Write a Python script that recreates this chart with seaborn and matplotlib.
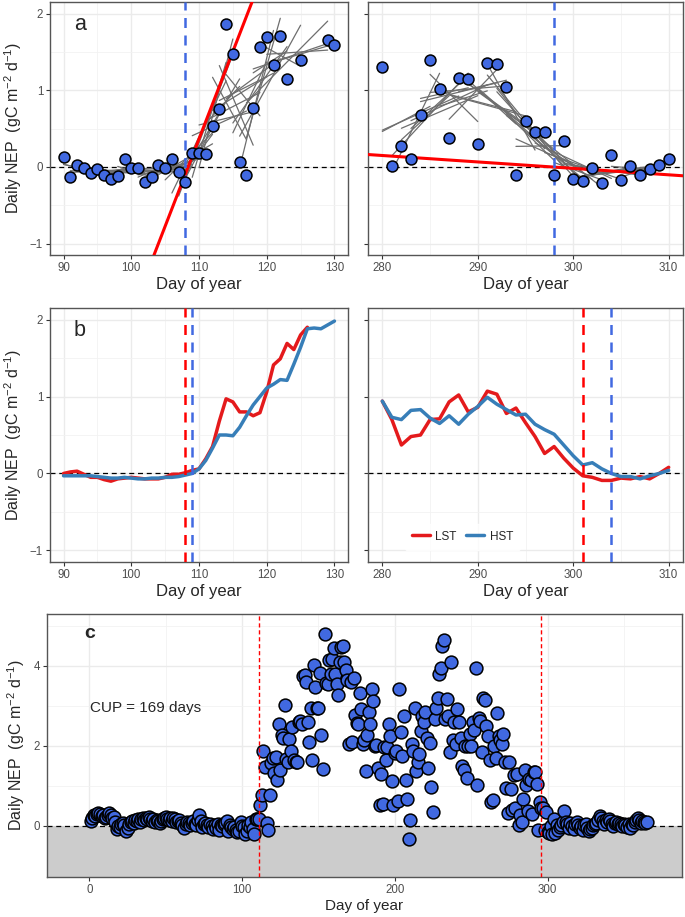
import numpy as np
import pandas as pd
import seaborn as sns
import matplotlib.pyplot as plt
from matplotlib.lines import Line2D

# Daily NEP (gC m-2 d-1) by day of year
nep_doy1_89 = [
    0.12, 0.20, 0.27, 0.25, 0.30, 0.33, 0.30, 0.25, 0.27, 0.20,
    0.22, 0.28, 0.32, 0.28, 0.20, 0.23, 0.10, -0.08, 0.00, -0.02,
    0.05, 0.08, 0.02, -0.12, -0.05, 0.05, 0.10, 0.11, 0.08, 0.14,
    0.12, 0.16, 0.10, 0.18, 0.19, 0.15, 0.20, 0.17, 0.22, 0.18,
    0.12, 0.16, 0.10, 0.15, 0.13, 0.08, 0.12, 0.18, 0.20, 0.22,
    0.18, 0.15, 0.20, 0.12, 0.19, 0.17, 0.10, 0.13, 0.15, 0.08,
    0.02, -0.06, 0.05, 0.10, 0.06, 0.03, 0.08, 0.12, 0.05, 0.02,
    0.15, 0.28, 0.12, -0.02, 0.05, 0.08, 0.02, -0.03, 0.05, 0.00,
    -0.08, 0.02, -0.05, 0.05, -0.10, 0.03, 0.00, 0.05, 0.08,
]
nep_doy90_130 = [
    0.13, -0.13, 0.02, -0.02, -0.08, -0.03, -0.11, -0.16, -0.12, 0.10,
    -0.01, -0.02, -0.20, -0.13, 0.02, -0.02, 0.10, -0.07, -0.20, 0.18,
    0.18, 0.17, 0.53, 0.76, 1.86, 1.47, 0.06, -0.11, 0.77, 1.56,
    1.69, 1.33, 1.71, 1.15, 2.54, 1.39, 2.28, 2.20, 3.03, 1.66,
    1.59,
]
nep_doy131_279 = [
    2.17, 1.88, 2.48, 1.65, 1.60, 1.59, 2.59, 2.62, 2.55, 3.75,
    3.78, 3.60, 2.59, 2.11, 2.94, 1.65, 4.03, 3.48, 2.96, 2.94,
    3.82, 2.28, 1.42, 4.79, 3.57, 3.55, 4.15, 3.80, 4.18, 4.46,
    3.80, 3.55, 3.27, 4.10, 4.47, 4.50, 4.10, 3.90, 3.65, 2.06,
    3.60, 2.11, 3.70, 2.78, 2.57, 2.54, 3.33, 2.92, 2.06, 2.16,
    1.37, 2.28, 2.86, 2.55, 3.43, 3.13, 2.00, 2.03, 1.45, 0.51,
    1.30, 0.55, 1.96, 1.65, 1.96, 2.55, 2.24, 1.12, 0.51, 1.83,
    1.87, 0.63, 3.42, 2.36, 1.75, 2.74, 1.15, 0.66, -0.33, 0.14,
    2.05, 1.88, 2.95, 1.38, 1.60, 1.80, 2.37, 2.76, 2.60, 2.85,
    2.20, 1.44, 2.07, 0.98, 0.34, 2.68, 2.94, 3.21, 3.80, 3.96,
    4.50, 4.65, 2.68, 3.17, 2.75, 1.85, 4.10, 2.15, 2.60, 2.05,
    2.92, 2.60, 2.20, 1.50, 1.40, 2.00, 1.20, 2.00, 2.30, 2.00,
    2.60, 2.40, 3.96, 1.03, 2.70, 2.63, 1.85, 3.20, 3.15, 2.50,
    2.24, 1.65, 0.60, 0.65, 2.00, 1.70, 2.82, 2.25, 2.15, 2.05,
    2.30, 1.60, 0.95, 0.33, 1.60, 0.92, 0.40, 1.28, 0.45,
]
nep_doy280_310 = [
    1.30, 0.01, 0.27, 0.10, 0.68, 1.39, 1.02, 0.38, 1.16, 1.14,
    0.30, 1.35, 1.34, 1.04, -0.10, 0.60, 0.45, 0.45, -0.11, 0.34,
    -0.16, -0.19, -0.01, -0.21, 0.16, -0.17, 0.01, -0.11, -0.03, 0.03,
    0.10,
]
nep_doy311_365 = [
    0.38, 0.10, 0.05, -0.05, 0.08, 0.00, -0.08, 0.05, 0.10, 0.02,
    -0.05, 0.00, -0.10, 0.03, 0.05, -0.05, -0.12, -0.08, -0.05, 0.02,
    0.05, 0.08, 0.15, 0.25, 0.20, 0.12, 0.05, 0.15, 0.10, 0.18,
    0.12, 0.05, 0.00, 0.08, 0.10, 0.05, 0.08, 0.05, 0.00, 0.05,
    0.03, -0.02, 0.05, -0.05, 0.05, 0.02, 0.10, 0.15, 0.20, 0.15,
    0.08, 0.12, 0.10, 0.08, 0.10,
]

# Smoothed NEP, panel b
lst_spring = [
    0.00, 0.02, 0.03, -0.01, -0.05, -0.05, -0.08, -0.10, -0.07, -0.06,
    -0.05, -0.06, -0.07, -0.07, -0.07, -0.05, -0.01, -0.01, 0.01, 0.04,
    0.06, 0.19, 0.35, 0.68, 0.97, 0.93, 0.80, 0.80, 0.75, 0.79,
    1.06, 1.41, 1.49, 1.69, 1.61, 1.80, 1.90,
]  # doy 90-126
hst_spring = [
    -0.03, -0.03, -0.03, -0.03, -0.03, -0.04, -0.05, -0.06, -0.06, -0.05,
    -0.06, -0.07, -0.07, -0.06, -0.06, -0.05, -0.05, -0.04, -0.02, 0.00,
    0.06, 0.17, 0.33, 0.50, 0.50, 0.49, 0.60, 0.75, 0.89, 1.00,
    1.11, 1.16, 1.22, 1.21, 1.42, 1.64, 1.88, 1.89, 1.88, 1.93,
    1.98,
]  # doy 90-130
lst_autumn = [
    0.94, 0.70, 0.37, 0.48, 0.50, 0.70, 0.71, 0.93, 1.02, 0.80,
    0.86, 1.07, 1.03, 0.78, 0.85, 0.66, 0.48, 0.26, 0.35, 0.20,
    0.07, -0.03, -0.05, -0.09, -0.09, -0.06, -0.07, -0.04, -0.07, 0.00,
    0.08,
]  # doy 280-310
hst_autumn = [
    0.94, 0.73, 0.70, 0.82, 0.83, 0.72, 0.65, 0.75, 0.64, 0.77,
    0.87, 0.99, 0.90, 0.83, 0.76, 0.77, 0.64, 0.57, 0.51, 0.37,
    0.23, 0.11, 0.14, 0.06, 0.00, -0.04, -0.04, -0.07, -0.03, 0.00,
    0.04,
]  # doy 280-310

# threshold dates and fitted lines
start_a, end_a = 108, 298
red_fit_spring = (0.228, 108.4)    # slope, zero crossing
red_fit_autumn = (-0.0084, 297.6)
lst_dates = (108, 301)
hst_dates = (109, 304)
cup_dates = (111, 296)
fit_windows = [6, 9]

sns.set_theme(style='white')
plt.rcParams['font.family'] = ['Liberation Sans', 'DejaVu Sans']
plt.rcParams['mathtext.fontset'] = 'custom'
plt.rcParams['mathtext.rm'] = 'Liberation Sans'
plt.rcParams['mathtext.it'] = 'Liberation Sans:italic'

nep = pd.DataFrame({
    'doy': np.arange(1, 366),
    'nep': np.concatenate([nep_doy1_89, nep_doy90_130, nep_doy131_279,
                           nep_doy280_310, nep_doy311_365]),
})

YLAB = 'Daily NEP  (gC m$^{-2}$ d$^{-1}$)'
PT_BLUE = '#4169E1'
W, H = 685, 917


def add_axes(fig, x0, y0, x1, y1):
    return fig.add_axes([x0 / W, 1 - y1 / H, (x1 - x0) / W, (y1 - y0) / H])


def style(ax, xlim, ylim, xmaj, xmin, ymaj, ymin, xfs=12):
    ax.set_xlim(xlim)
    ax.set_ylim(ylim)
    ax.set_xticks(xmaj)
    ax.set_xticks(xmin, minor=True)
    ax.set_yticks(ymaj)
    ax.set_yticks(ymin, minor=True)
    ax.grid(True, which='major', color='#EBEBEB', lw=1.0, zorder=0)
    ax.grid(True, which='minor', color='#F2F2F2', lw=0.6, zorder=0)
    ax.set_axisbelow(True)
    ax.tick_params(which='major', length=3, width=0.8, color='#333333',
                   labelsize=8.3, labelcolor='#4D4D4D', pad=2,
                   bottom=True, left=True)
    ax.tick_params(which='minor', length=0)
    for s in ax.spines.values():
        s.set_color('#555555')
        s.set_linewidth(1.0)
    ax.set_xlabel('Day of year', fontsize=xfs, labelpad=2)
    ax.set_ylabel('')
    ax.axhline(0, color='black', ls=(0, (4, 3)), lw=0.9, zorder=2)


def window_lines(ax, d):
    x = d['doy'].values
    y = d['nep'].values
    for w in fit_windows:
        for i in range(len(x) - w + 1):
            xs, ys = x[i:i + w], y[i:i + w]
            b, a = np.polyfit(xs, ys, 1)
            ax.plot([xs[0], xs[-1]], [a + b * xs[0], a + b * xs[-1]],
                    color='#6E6E6E', lw=0.9, zorder=3)


fig = plt.figure(figsize=(6.85, 9.17), dpi=100)

ylim_ab = (-1.15, 2.15)

# ---- panel a ----
ax_a1 = add_axes(fig, 50, 2, 348, 255)
ax_a2 = add_axes(fig, 368, 2, 683, 255)
for ax, (lo, hi), fit, vdate in [(ax_a1, (90, 130), red_fit_spring, start_a),
                                 (ax_a2, (280, 310), red_fit_autumn, end_a)]:
    d = nep[(nep.doy >= lo) & (nep.doy <= hi)]
    d = d[(d.nep >= ylim_ab[0]) & (d.nep <= ylim_ab[1])]
    window_lines(ax, d)
    slope, x0 = fit
    ax.axline((x0, 0), slope=slope, color='red', lw=2.2, zorder=4)
    ax.axvline(vdate, color=PT_BLUE, lw=1.8, ls=(0, (4, 3)), zorder=4)
    sns.scatterplot(data=d, x='doy', y='nep', ax=ax, s=62, color=PT_BLUE,
                    edgecolor='black', linewidth=1.1, zorder=5, legend=False)

style(ax_a1, (88, 132), ylim_ab, [90, 100, 110, 120, 130],
      [95, 105, 115, 125], [-1, 0, 1, 2], [-0.5, 0.5, 1.5])
style(ax_a2, (278.5, 311.5), ylim_ab, [280, 290, 300, 310],
      [285, 295, 305], [-1, 0, 1, 2], [-0.5, 0.5, 1.5])
ax_a2.tick_params(labelleft=False)
ax_a1.set_ylabel(YLAB, fontsize=11.5, labelpad=4)
ax_a1.text(91.5, 1.86, 'a', fontsize=15.5, ha='left', va='center')

# ---- panel b ----
ax_b1 = add_axes(fig, 50, 308, 348, 562)
ax_b2 = add_axes(fig, 368, 308, 683, 562)
curves = pd.concat([
    pd.DataFrame({'doy': np.arange(90, 90 + len(lst_spring)), 'nep': lst_spring,
                  'method': 'LST', 'part': 'spring'}),
    pd.DataFrame({'doy': np.arange(90, 90 + len(hst_spring)), 'nep': hst_spring,
                  'method': 'HST', 'part': 'spring'}),
    pd.DataFrame({'doy': np.arange(280, 280 + len(lst_autumn)), 'nep': lst_autumn,
                  'method': 'LST', 'part': 'autumn'}),
    pd.DataFrame({'doy': np.arange(280, 280 + len(hst_autumn)), 'nep': hst_autumn,
                  'method': 'HST', 'part': 'autumn'}),
])
pal = {'LST': '#E41A1C', 'HST': '#377EB8'}
for ax, part, k in [(ax_b1, 'spring', 0), (ax_b2, 'autumn', 1)]:
    sns.lineplot(data=curves[curves.part == part], x='doy', y='nep',
                 hue='method', hue_order=['LST', 'HST'], palette=pal,
                 lw=2.5, ax=ax, legend=False, zorder=3)
    ax.axvline(lst_dates[k], color='red', lw=1.8, ls=(0, (4, 3)), zorder=4)
    ax.axvline(hst_dates[k], color=PT_BLUE, lw=1.8, ls=(0, (4, 3)), zorder=4)

style(ax_b1, (88, 132), ylim_ab, [90, 100, 110, 120, 130],
      [95, 105, 115, 125], [-1, 0, 1, 2], [-0.5, 0.5, 1.5])
style(ax_b2, (278.5, 311.5), ylim_ab, [280, 290, 300, 310],
      [285, 295, 305], [-1, 0, 1, 2], [-0.5, 0.5, 1.5])
ax_b2.tick_params(labelleft=False)
ax_b1.set_ylabel(YLAB, fontsize=11.5, labelpad=4)
ax_b1.text(91.5, 1.86, 'b', fontsize=15.5, ha='left', va='center')

handles = [Line2D([], [], color=pal[m], lw=2.5) for m in ['LST', 'HST']]
leg = ax_b2.legend(handles, ['LST', 'HST'], ncol=2, loc='center',
                   bbox_to_anchor=(0.30, 0.10), frameon=True, fontsize=8.5,
                   handlelength=1.5, handletextpad=0.5, columnspacing=0.8,
                   borderpad=0.6)
leg.get_frame().set_facecolor('white')
leg.get_frame().set_edgecolor('white')

# ---- panel c ----
ax_c = add_axes(fig, 47, 614, 682, 877)
ax_c.axhspan(-5, 0, color='#CCCCCC', lw=0, zorder=1)
sns.scatterplot(data=nep, x='doy', y='nep', ax=ax_c, s=85, color=PT_BLUE,
                edgecolor='black', linewidth=1.1, zorder=5, legend=False)
for dte in cup_dates:
    ax_c.axvline(dte, color='red', lw=1.0, ls=(0, (3, 2)), zorder=6)
style(ax_c, (-27.7, 388), (-1.28, 5.3), [0, 100, 200, 300],
      [50, 150, 250, 350], [0, 2, 4], [1, 3, 5], xfs=11)
ax_c.set_ylabel(YLAB, fontsize=11.5, labelpad=5)
ax_c.text(-3.5, 4.8, 'c', fontsize=14, fontweight='bold', ha='left', va='center')
ax_c.text(0.5, 2.95, 'CUP = 169 days', fontsize=11, ha='left', va='center')

fig.savefig('out.png', dpi=100)
